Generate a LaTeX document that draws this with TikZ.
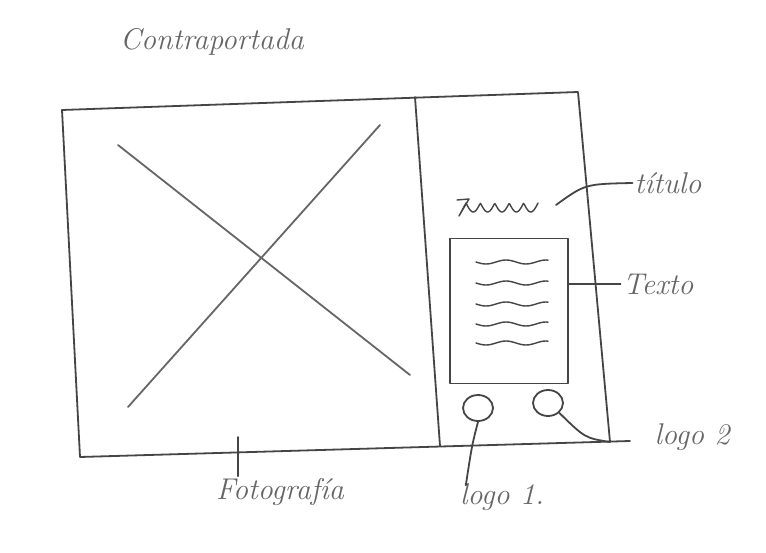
\documentclass[tikz,border=0pt]{standalone}
\usepackage{fontspec}
\usetikzlibrary{shapes.geometric,calc}
\definecolor{pencil}{HTML}{454545}
\definecolor{graphite}{HTML}{666666}
\tikzset{
  sketch/.style={draw=pencil,line width=1.8pt,line cap=round,line join=round},
  hand/.style={text=graphite,font=\itshape\fontsize{30}{34}\selectfont,inner sep=2pt},
  logo/.style={sketch,ellipse,minimum width=30,minimum height=26,inner sep=0pt}
}
\begin{document}
\begin{tikzpicture}[x=1pt,y=-1pt]
\useasboundingbox[fill=white] (0,0) rectangle (766,553);
% frame of the back cover
\coordinate (tl) at (62,110);\coordinate (tr) at (578,92);
\coordinate (bl) at (80,457);\coordinate (br) at (610,442);
\draw[sketch] (tl)--(tr)--(br);\draw[sketch] (tl)--(bl)--(630,441);
\draw[sketch] (415,97)--(440,446);
% photo placeholder
\draw[sketch,draw=graphite] (118,145)--(410,375);\draw[sketch,draw=graphite] (380,125)--(128,407);
% title scribble
\draw[sketch,line width=1.4pt] (457,200)--(469,199)--(459,216)
  -- plot[domain=0:5*180,samples=80] ({466+\x/12.5},{203+9*abs(sin(\x))});
\coordinate (titend) at (556,205);
% text box
\node[sketch,minimum width=118,minimum height=145] (caja) at (509,311) {};
\foreach \y in {262,283,304,324,343}
  \draw[sketch,line width=1.4pt] plot[domain=0:72,samples=30] ({476+\x},{\y+2*sin(\x*9)});
% logos
\node[logo] (l1) at (478,408) {};
\node[logo] (l2) at (548,403) {};
% labels
\node[hand] (portada) at (212,42) {Contraportada};
\node[hand] (titulo) at (668,183) {título};
\node[hand] (texto) at (658,284) {Texto};
\node[hand] (logodos) at (692,437) {logo 2};
\node[hand] (logouno) at (502,497) {logo 1.};
\node[hand] (foto) at (280,492) {Fotografía};
% leaders
\draw[sketch] (titend) .. controls (585,184) .. (titulo.west);
\draw[sketch] (caja.east |- texto.west) -- (texto.west);
\draw[sketch] (l2.south east) .. controls (585,438) .. (br);
\draw[sketch] (l1.south) .. controls (472,445) .. ($(logouno.north west)+(8,4)$);
\coordinate (fototick) at (238,437);
\draw[sketch] (fototick) -- (fototick |- foto.north);
\end{tikzpicture}
\end{document}
